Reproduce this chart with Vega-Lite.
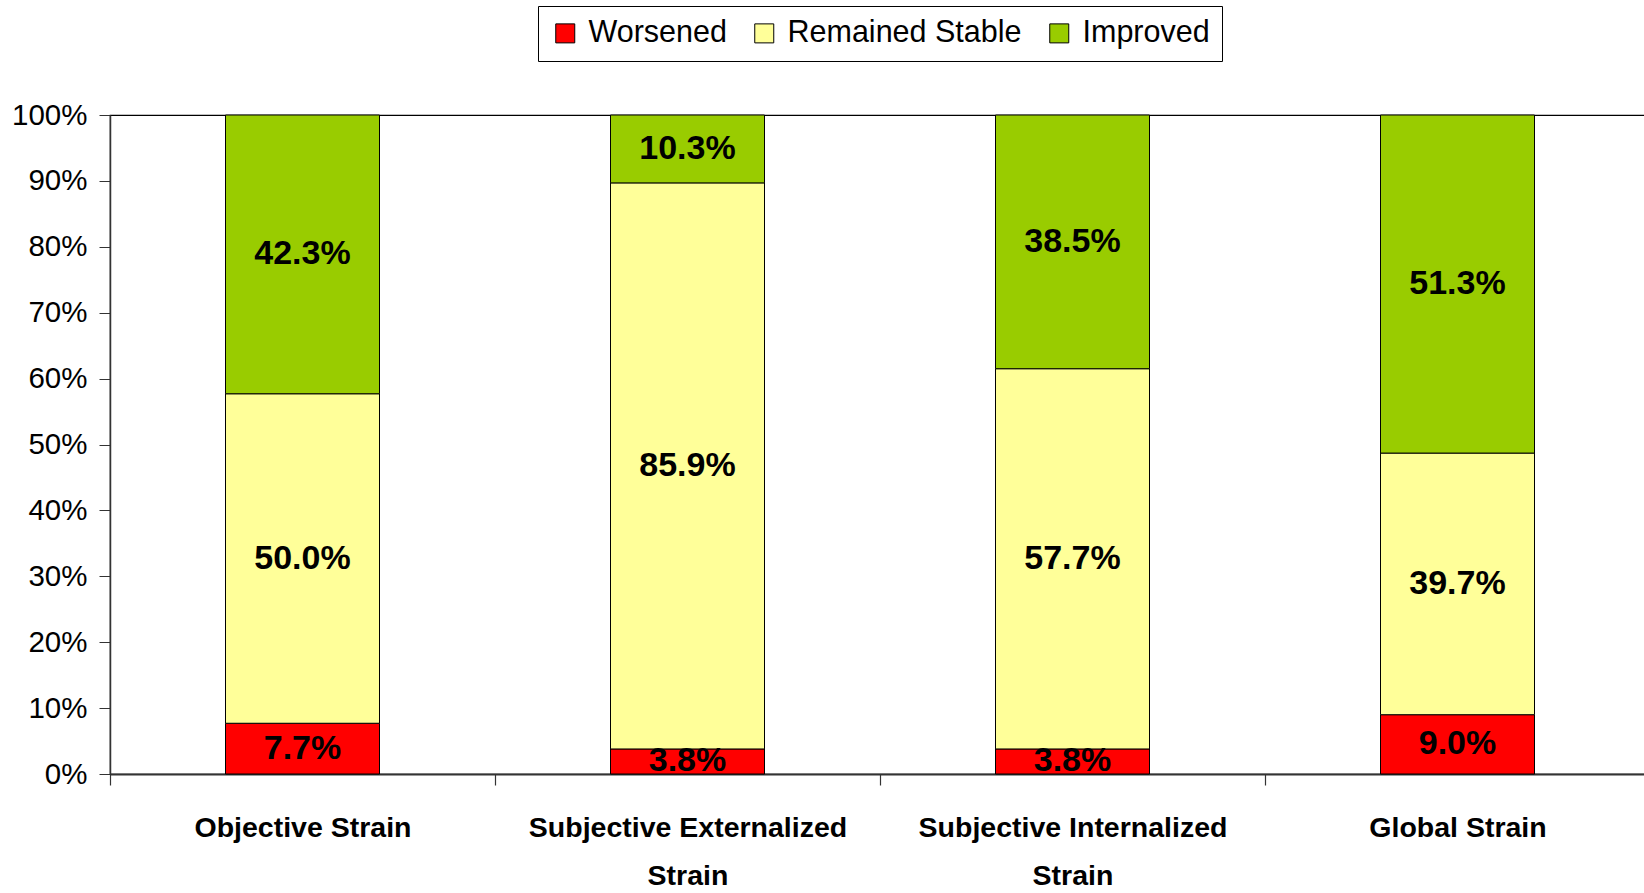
{
  "$schema": "https://vega.github.io/schema/vega-lite/v6.json",
  "width": 1540,
  "height": 659,
  "autosize": "none",
  "padding": {"left": 110, "top": 115, "right": 0, "bottom": 119},
  "background": "white",
  "config": {
    "view": {"stroke": "black", "strokeWidth": 1.2},
    "font": "Liberation Sans"
  },
  "data": {
    "values": [
      {"cat": "Objective Strain", "status": "Worsened", "pct": 0.077},
      {"cat": "Objective Strain", "status": "Remained Stable", "pct": 0.5},
      {"cat": "Objective Strain", "status": "Improved", "pct": 0.423},
      {"cat": "Subjective Externalized Strain", "status": "Worsened", "pct": 0.038},
      {"cat": "Subjective Externalized Strain", "status": "Remained Stable", "pct": 0.859},
      {"cat": "Subjective Externalized Strain", "status": "Improved", "pct": 0.103},
      {"cat": "Subjective Internalized Strain", "status": "Worsened", "pct": 0.038},
      {"cat": "Subjective Internalized Strain", "status": "Remained Stable", "pct": 0.577},
      {"cat": "Subjective Internalized Strain", "status": "Improved", "pct": 0.385},
      {"cat": "Global Strain", "status": "Worsened", "pct": 0.09},
      {"cat": "Global Strain", "status": "Remained Stable", "pct": 0.397},
      {"cat": "Global Strain", "status": "Improved", "pct": 0.513}
    ]
  },
  "encoding": {
    "x": {
      "field": "cat",
      "type": "nominal",
      "sort": null,
      "scale": {"paddingInner": 0, "paddingOuter": 0},
      "axis": {
        "title": null,
        "labelAngle": 0,
        "labelFont": "Liberation Sans",
        "labelFontWeight": "bold",
        "labelFontSize": 28.5,
        "labelColor": "black",
        "labelBaseline": "top",
        "labelLineHeight": 48,
        "labelPadding": 28,
        "labelLimit": 0,
        "tickBand": "extent",
        "tickSize": 11,
        "tickColor": "#333",
        "tickWidth": 1.2,
        "domainColor": "#333",
        "domainWidth": 2,
        "labelExpr": "datum.label == 'Subjective Externalized Strain' || datum.label == 'Subjective Internalized Strain' ? [slice(datum.label, 0, lastindexof(datum.label, ' ')), 'Strain'] : datum.label"
      }
    }
  },
  "layer": [
    {
      "mark": {"type": "bar", "stroke": "black", "strokeWidth": 1, "width": {"band": 0.4}},
      "encoding": {
        "y": {
          "field": "pct",
          "type": "quantitative",
          "stack": "zero",
          "scale": {"domain": [0, 1], "nice": false},
          "axis": {
            "title": null,
            "values": [0, 0.1, 0.2, 0.3, 0.4, 0.5, 0.6, 0.7, 0.8, 0.9, 1],
            "grid": false,
            "format": ".0%",
            "labelFont": "Liberation Sans",
            "labelFontSize": 29.5,
            "labelColor": "black",
            "labelPadding": 12,
            "tickSize": 11,
            "tickColor": "#333",
            "domainColor": "#333",
            "domainWidth": 1.5
          }
        },
        "color": {
          "field": "status",
          "type": "nominal",
          "sort": ["Worsened", "Remained Stable", "Improved"],
          "scale": {
            "domain": ["Worsened", "Remained Stable", "Improved"],
            "range": ["#FF0000", "#FFFF99", "#99CC00"]
          },
          "legend": {
            "title": null,
            "orient": "none",
            "legendX": 428,
            "legendY": -109,
            "direction": "horizontal",
            "symbolType": "square",
            "symbolSize": 361,
            "symbolStrokeColor": "black",
            "symbolStrokeWidth": 1,
            "labelFont": "Liberation Sans",
            "labelFontSize": 30.5,
            "labelColor": "black",
            "labelOffset": 8,
            "columnPadding": 22,
            "strokeColor": "black",
            "fillColor": "white",
            "padding": 12,
            "labelLimit": 0
          }
        }
      }
    },
    {
      "mark": {
        "type": "text",
        "font": "Liberation Sans",
        "fontWeight": "bold",
        "fontSize": 34,
        "color": "black",
        "baseline": "middle"
      },
      "encoding": {
        "y": {
          "field": "pct",
          "type": "quantitative",
          "stack": "zero",
          "bandPosition": 0.5
        },
        "detail": {"field": "status", "sort": ["Worsened", "Remained Stable", "Improved"]},
        "order": {"field": "status", "sort": "descending"},
        "text": {"field": "pct", "type": "quantitative", "format": ".1%"}
      }
    }
  ]
}
